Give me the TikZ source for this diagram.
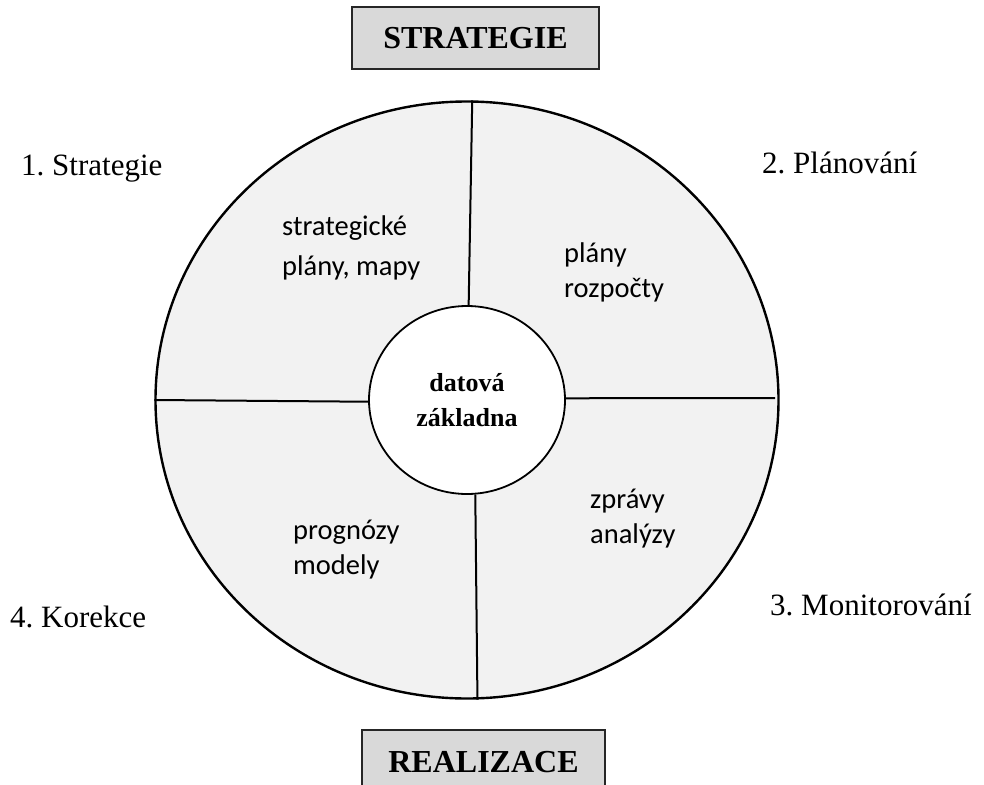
\documentclass[tikz,border=0pt]{standalone}
\usepackage{fontspec}
\setmainfont{Liberation Serif}
\newfontfamily\calib{Carlito}
\usetikzlibrary{shapes.geometric}
\frenchspacing
\definecolor{ringfill}{HTML}{F2F2F2}
\definecolor{boxfill}{HTML}{D9D9D9}
\tikzset{
  stagebox/.style={draw=black!85, line width=2pt, fill=boxfill, rectangle,
    inner sep=0pt, font=\fontsize{32}{36}\selectfont\bfseries},
  divider/.style={line width=2pt, draw=black},
  phase/.style={anchor=base west, inner sep=0pt, font=\fontsize{31}{36}\selectfont},
  content/.style={anchor=base west, inner sep=0pt, align=left},
}
\begin{document}
\begin{tikzpicture}[x=1pt, y=-1pt]
\useasboundingbox (0,0) rectangle (984,784);

% outer ring and the central data store
\node[ellipse, draw, line width=2.4pt, fill=ringfill, minimum width=623pt,
      minimum height=597pt, inner sep=0pt] (outer) at (467,400) {};
\node[ellipse, draw, line width=1.8pt, fill=white, minimum width=196pt,
      minimum height=188pt, inner sep=0pt, align=center,
      font=\fontsize{26}{35}\selectfont\bfseries] (inner) at (467,400)
      {datová\\základna};

% dividers between the four quadrants
\coordinate (rightend) at (775,398);
\draw[divider] (inner.89.4) -- (outer.89.8);
\draw[divider] (inner.181.2) -- (outer.180.4);
\draw[divider] (inner.1.2) -- (rightend);
\draw[divider] (inner.-85.1) -- (outer.-88.5);

% quadrant contents (base anchor = baseline of the last line)
\node[content, font=\calib\fontsize{28.5}{40}\selectfont] (q1) at (282,275)
  {strategické\\plány, mapy};
\node[content, font=\calib\fontsize{28.5}{35}\selectfont] (q2) at (564,297)
  {plány\\rozpočty};
\node[content, font=\calib\fontsize{28.5}{35}\selectfont] (q3) at (590,543)
  {zprávy\\analýzy};
\node[content, font=\calib\fontsize{28.5}{35}\selectfont] (q4) at (293,574)
  {prognózy\\modely};

% phase labels around the ring
\node[phase] (p1) at (21,175) {1. Strategie};
\node[phase] (p2) at (762,173) {2. Plánování};
\node[phase] (p3) at (770,615) {3. Monitorování};
\node[phase] (p4) at (10,627) {4. Korekce};

% top and bottom headings
\node[stagebox, minimum width=247pt, minimum height=62pt] (strat) at (475.5,38)
  {STRATEGIE\hspace{20pt}};
\node[stagebox, minimum width=243pt, minimum height=64pt] (real) at (483.5,762)
  {REALIZACE\hspace{12pt}};
\end{tikzpicture}
\end{document}
